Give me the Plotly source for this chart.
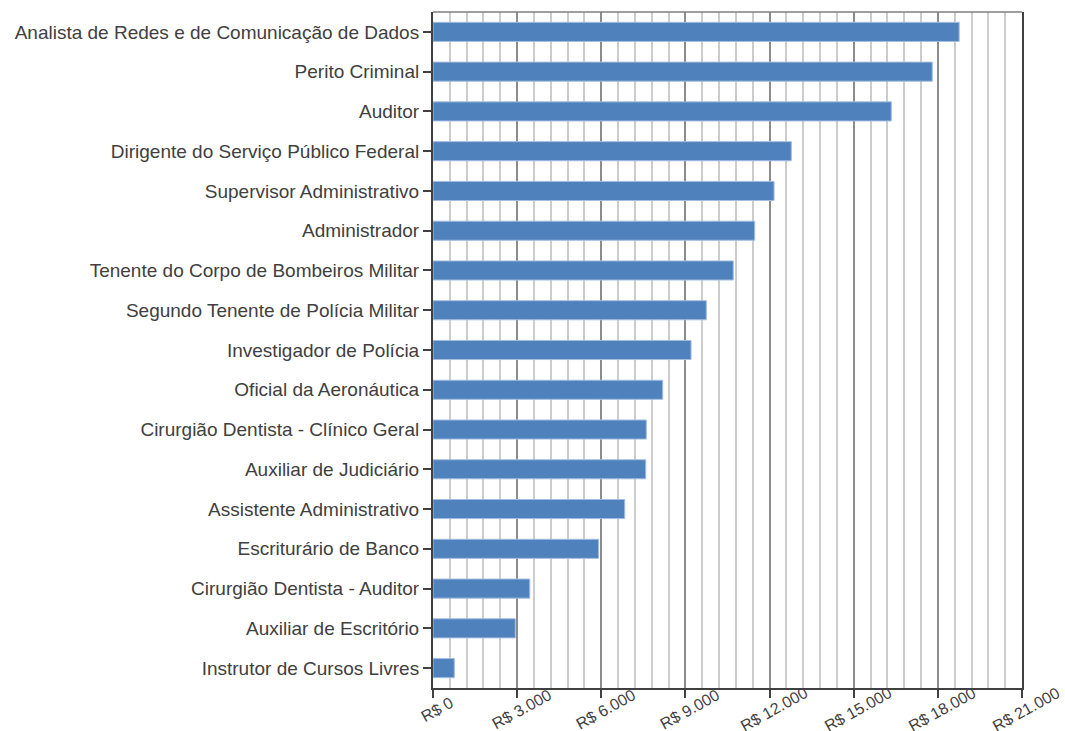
import plotly.graph_objects as go

categories = [
    "Analista de Redes e de Comunicação de Dados",
    "Perito Criminal",
    "Auditor",
    "Dirigente do Serviço Público Federal",
    "Supervisor Administrativo",
    "Administrador",
    "Tenente do Corpo de Bombeiros Militar",
    "Segundo Tenente de Polícia Militar",
    "Investigador de Polícia",
    "Oficial da Aeronáutica",
    "Cirurgião Dentista - Clínico Geral",
    "Auxiliar de Judiciário",
    "Assistente Administrativo",
    "Escriturário de Banco",
    "Cirurgião Dentista - Auditor",
    "Auxiliar de Escritório",
    "Instrutor de Cursos Livres",
]
salaries = [18760, 17800, 16340, 12775, 12160, 11470, 10705, 9745, 9200,
            8190, 7605, 7585, 6835, 5905, 3450, 2935, 760]

x_ticks = [0, 3000, 6000, 9000, 12000, 15000, 18000, 21000]
x_tick_labels = ["R$ " + f"{v:,}".replace(",", ".") for v in x_ticks]

text_color = "#404040"
font_family = "Liberation Sans, Arial, sans-serif"

fig = go.Figure(go.Bar(
    x=salaries,
    y=categories,
    orientation="h",
    width=0.48,
    marker=dict(color="#4f81bd", line=dict(color="#a3bde0", width=1)),
))

# x tick labels drawn centred under each tick, rotated like the reference
tick_annotations = [
    dict(x=v, xref="x", y=0, yref="paper", text=t, showarrow=False,
         textangle=-29, xanchor="center", yanchor="middle",
         xshift=4, yshift=-21,
         font=dict(size=16, color=text_color, family=font_family))
    for v, t in zip(x_ticks, x_tick_labels)
]

fig.update_layout(
    width=1065,
    height=731,
    margin=dict(l=433, r=43, t=12, b=43, autoexpand=False),
    paper_bgcolor="white",
    plot_bgcolor="white",
    separators=",.",
    showlegend=False,
    font=dict(family=font_family, color=text_color),
    annotations=tick_annotations,
    shapes=[dict(type="line", xref="paper", yref="paper", x0=0, x1=1, y0=1, y1=1,
                 line=dict(color="#7f7f7f", width=1.5), layer="above")],
)

fig.update_xaxes(
    range=[0, 21000],
    tickmode="array",
    tickvals=x_ticks,
    showticklabels=False,
    ticks="outside",
    ticklen=8,
    tickwidth=2,
    tickcolor="#404040",
    showline=True,
    linecolor="#404040",
    linewidth=2,
    showgrid=True,
    gridcolor="#8c8c8c",
    gridwidth=1.5,
    minor=dict(dtick=600, showgrid=True, gridcolor="#cccccc", gridwidth=1.5),
    zeroline=False,
    automargin=False,
)

fig.update_yaxes(
    autorange="reversed",
    tickfont=dict(size=19, color=text_color, family=font_family),
    ticks="outside",
    ticklen=8,
    tickwidth=2,
    tickcolor="#404040",
    showline=True,
    linecolor="#404040",
    linewidth=2,
    mirror=True,
    showgrid=False,
    automargin=False,
)

fig.write_html("out.html")
